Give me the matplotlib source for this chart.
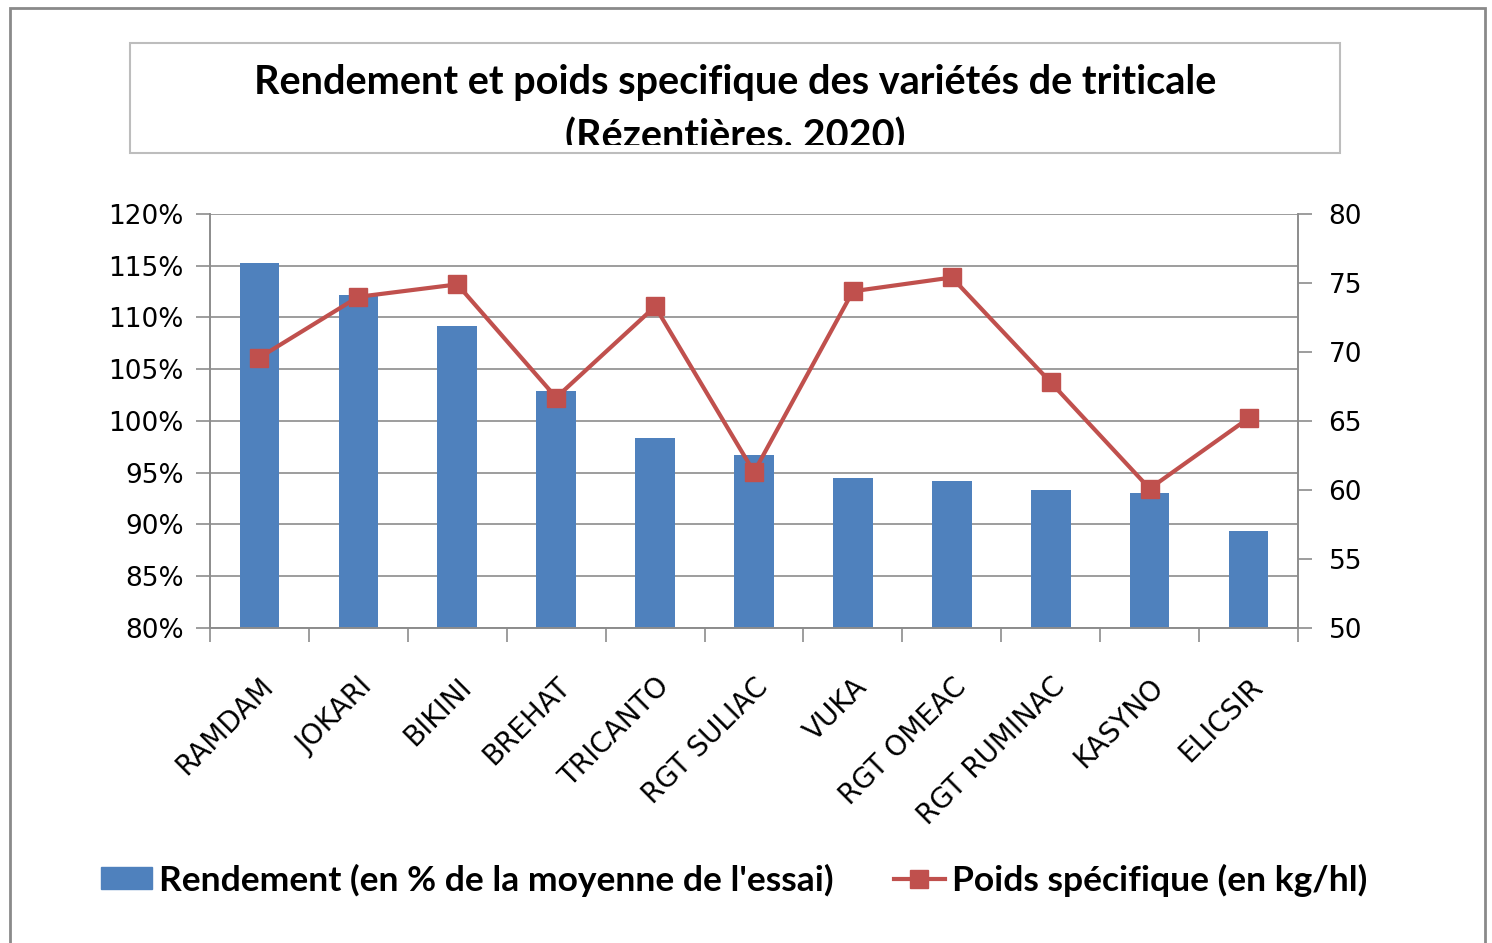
import matplotlib
matplotlib.use("Agg")
import matplotlib.pyplot as plt
from matplotlib.patches import Rectangle
from matplotlib.lines import Line2D
from matplotlib.ticker import FuncFormatter, FixedLocator

# --------------------------- DATA --------------------------- #
VARIETIES = ["RAMDAM", "JOKARI", "BIKINI", "BREHAT", "TRICANTO", "RGT SULIAC",
             "VUKA", "RGT OMEAC", "RGT RUMINAC", "KASYNO", "ELICSIR"]
RENDEMENT = [115.3, 112.2, 109.2, 102.9, 98.4, 96.7, 94.5, 94.2, 93.3, 93.0, 89.4]
POIDS_SPEC = [69.6, 74.0, 74.9, 66.7, 73.3, 61.3, 74.4, 75.4, 67.8, 60.1, 65.2]

TITLE_1 = "Rendement et poids specifique des variétés de triticale"
TITLE_2 = "(Rézentières, 2020)"
LEG_BAR = "Rendement (en % de la moyenne de l'essai)"
LEG_LINE = "Poids spécifique (en kg/hl)"

BAR_COLOR = "#4F81BD"
LINE_COLOR = "#C0504D"
GRID_COLOR = "#8C8C8C"
BOLD_FONT = ["Lato", "DejaVu Sans"]
# ------------------------------------------------------------ #

W, H = 1492, 943
fig = plt.figure(figsize=(W / 100, H / 100), dpi=100)


def fx(px):
    return px / W


def fy(py):
    return 1 - py / H


# outer frame
fig.patches.append(Rectangle((fx(10), fy(945)), fx(1485) - fx(10), fy(8) - fy(945),
                             transform=fig.transFigure, fill=False,
                             edgecolor="#8A8A8A", linewidth=2))

# title box (second line is cut off by the box, as in the original)
fig.patches.append(Rectangle((fx(130), fy(153)), fx(1340) - fx(130), fy(43) - fy(153),
                             transform=fig.transFigure, fill=False,
                             edgecolor="#BDBDBD", linewidth=1.5))
tax = fig.add_axes([fx(131), fy(145), fx(1339) - fx(131), fy(44) - fy(145)])
tax.set_axis_off()
for txt, ypx in ((TITLE_1, 94), (TITLE_2, 149)):
    t = tax.text(fx(735), fy(ypx), txt, transform=fig.transFigure, ha="center",
                 va="baseline", fontsize=28.5, fontweight="bold", family=BOLD_FONT)
    t.set_clip_on(True)
    t.set_clip_box(tax.bbox)

# main axes
ax = fig.add_axes([fx(210), fy(628), fx(1298) - fx(210), fy(214) - fy(628)])
ax2 = ax.twinx()

x = list(range(len(VARIETIES)))
ax.bar(x, RENDEMENT, width=0.4, color=BAR_COLOR, zorder=2)
ax.set_ylim(80, 120)
ax.set_xlim(-0.5, len(VARIETIES) - 0.5)
ax.set_yticks(range(80, 121, 5))
ax.yaxis.set_major_formatter(FuncFormatter(lambda v, p: f"{v:.0f}%"))
ax.yaxis.grid(True, color=GRID_COLOR, linewidth=1.2, zorder=0)
ax.set_axisbelow(True)

ax.xaxis.set_major_locator(FixedLocator(x))
ax.set_xticklabels(VARIETIES, rotation=45, ha="right", va="top",
                   rotation_mode="anchor", fontsize=20)
ax.tick_params(axis="x", which="major", length=0, pad=32)
ax.xaxis.set_minor_locator(FixedLocator([i - 0.5 for i in range(len(VARIETIES) + 1)]))
ax.tick_params(axis="x", which="minor", length=10, width=1.2, color=GRID_COLOR)
ax.tick_params(axis="y", length=10, width=1.2, color=GRID_COLOR, labelsize=19, pad=9)

ax2.plot(x, POIDS_SPEC, color=LINE_COLOR, linewidth=3, marker="s", markersize=13,
         zorder=3)
ax2.set_ylim(50, 80)
ax2.set_yticks(range(50, 81, 5))
ax2.tick_params(axis="y", length=10, width=1.2, color=GRID_COLOR, labelsize=19, pad=12)

for a in (ax, ax2):
    a.spines["top"].set_visible(False)
    for s in ("left", "right", "bottom"):
        a.spines[s].set_color(GRID_COLOR)
        a.spines[s].set_linewidth(1.2)

# legend
handles = [Rectangle((0, 0), 1, 1, color=BAR_COLOR),
           Line2D([0], [0], color=LINE_COLOR, linewidth=3, marker="s", markersize=13)]
fig.legend(handles, [LEG_BAR, LEG_LINE], loc="center", ncol=2,
           bbox_to_anchor=(fx(734), fy(880)), frameon=False,
           prop={"family": BOLD_FONT, "weight": "bold", "size": 25.5},
           handlelength=1.45, handleheight=0.6, handletextpad=0.2, columnspacing=1.7)

fig.savefig("out.png", dpi=100)
